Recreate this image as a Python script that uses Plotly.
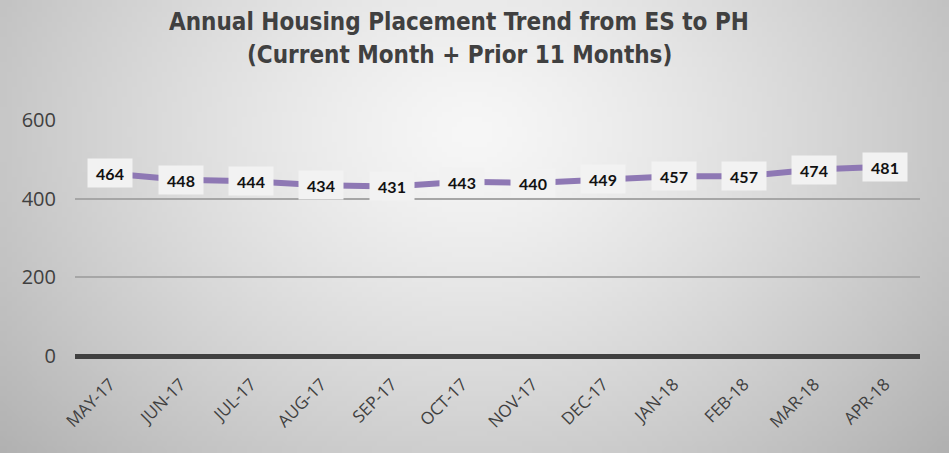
import plotly.graph_objects as go
import numpy as np
import zlib, struct, base64

months = ["MAY-17", "JUN-17", "JUL-17", "AUG-17", "SEP-17", "OCT-17",
          "NOV-17", "DEC-17", "JAN-18", "FEB-18", "MAR-18", "APR-18"]
placements = [464, 448, 444, 434, 431, 443, 440, 449, 457, 457, 474, 481]
y_ticks = [0, 200, 400, 600]
title_lines = ["Annual Housing Placement Trend from ES to PH",
               "(Current Month + Prior 11 Months)"]

W, H = 949, 453

# radial gradient background as PNG data URI
def make_png(arr):
    h, w = arr.shape
    raw = b"".join(b"\x00" + bytes(arr[i].astype(np.uint8).repeat(3).tolist()) for i in range(h))
    def chunk(t, d):
        c = struct.pack(">I", len(d)) + t + d
        return c + struct.pack(">I", zlib.crc32(t + d) & 0xffffffff)
    png = b"\x89PNG\r\n\x1a\n" + chunk(b"IHDR", struct.pack(">IIBBBBB", w, h, 8, 2, 0, 0, 0))
    png += chunk(b"IDAT", zlib.compress(raw, 9)) + chunk(b"IEND", b"")
    return "data:image/png;base64," + base64.b64encode(png).decode()

gw, gh = 190, 91
yy, xx = np.mgrid[0:gh, 0:gw]
cx, cy = 470 / W * gw, 130 / H * gh
d = np.sqrt(((xx - cx) / (gw * 0.62)) ** 2 + ((yy - cy) / (gh * 1.0)) ** 2)
val = 247 - 64 * np.clip(d, 0, 1.2) ** 1.3
img = make_png(np.clip(val, 0, 255))

L, R, T, B = 75, 29, 120, 97
pw, ph = W - L - R, H - T - B

fig = go.Figure()
fig.add_trace(go.Scatter(
    x=months, y=placements, mode="lines",
    line=dict(color="#8e78b4", width=6),
    hoverinfo="skip", showlegend=False,
))

for m, v in zip(months, placements):
    fig.add_annotation(
        x=m, y=v, text="<b>%d</b>" % v, showarrow=False,
        font=dict(family="Lato, sans-serif", size=16, color="#111111"),
        bgcolor="#f2f2f2", borderpad=5, width=34, height=18,
    )

title_font = dict(family="DejaVu Sans Condensed, Liberation Sans Narrow, sans-serif", size=24, color="#404040")
for i, t in enumerate(title_lines):
    fig.add_annotation(
        xref="paper", yref="paper", x=(459 - L) / pw, y=1 + (T - 22 - 33 * i) / ph,
        xanchor="center", yanchor="middle", showarrow=False,
        text="<b>%s</b>" % t, font=title_font,
    )

fig.add_layout_image(dict(
    source=img, xref="paper", yref="paper",
    x=-L / pw, y=1 + T / ph, sizex=W / pw, sizey=H / ph,
    xanchor="left", yanchor="top", sizing="stretch", layer="below",
))

fig.update_layout(
    width=W, height=H,
    margin=dict(l=L, r=R, t=T, b=B),
    paper_bgcolor="#d8d8d8",
    plot_bgcolor="rgba(0,0,0,0)",
    xaxis=dict(
        range=[-0.5, 11.5], showgrid=False, zeroline=False, showline=False,
        tickangle=-45, ticklabelstandoff=14,
        tickfont=dict(family="Open Sans, sans-serif", size=17, color="#404040"),
    ),
    yaxis=dict(
        range=[0, 600], tickvals=y_ticks, showgrid=True, gridcolor="#a6a6a6", gridwidth=2,
        zeroline=True, zerolinecolor="#404040", zerolinewidth=5, showline=False,
        ticklabelstandoff=18,
        tickfont=dict(family="Open Sans, sans-serif", size=20, color="#404040"),
    ),
)

fig.write_html("out.html", config={"displayModeBar": False},
               post_script="document.body.style.margin='0';document.body.style.overflow='hidden';")
